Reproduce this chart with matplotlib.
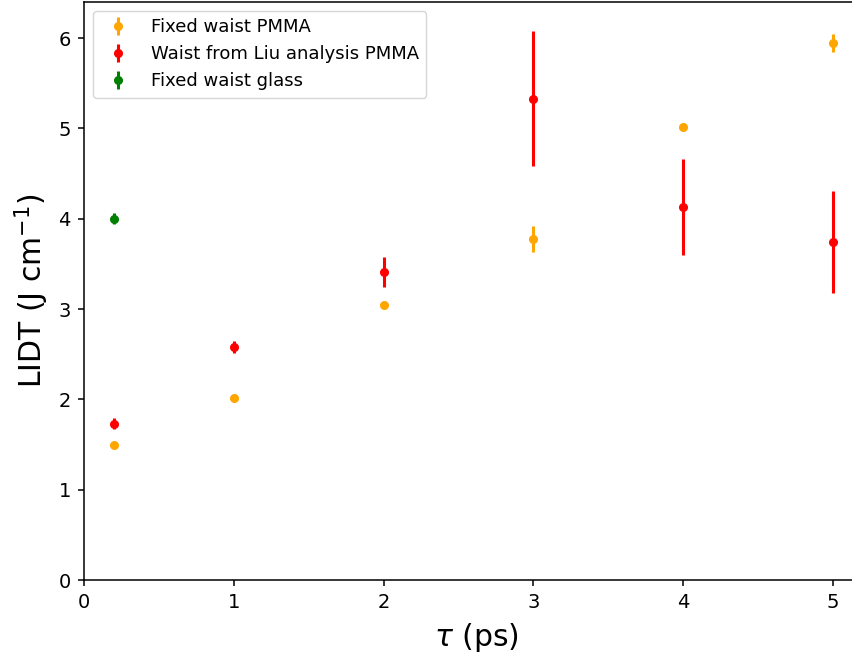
import numpy as np
import matplotlib.pyplot as plt

# pulse length (ps)
tau = [0.2, 1, 2, 3, 4, 5]

# fixed waist PMMA
lidt_fixed = [1.50, 2.02, 3.05, 3.78, 5.02, 5.95]
err_fixed = [0.02, 0.03, 0.02, 0.145, 0.02, 0.10]

# waist from Liu analysis PMMA
lidt_liu = [1.73, 2.58, 3.41, 5.33, 4.13, 3.74]
err_liu = [0.06, 0.07, 0.17, 0.75, 0.53, 0.565]

# fixed waist glass
tau_glass = [0.2]
lidt_glass = [4.00]
err_glass = [0.06]

fig = plt.figure(figsize=(8.52, 6.6), dpi=100)
ax = fig.add_axes([0.0986, 0.1212, 0.921, 0.8758])

ax.errorbar(tau, lidt_fixed, yerr=err_fixed, fmt='o', color='orange',
            elinewidth=2.2, markersize=5.5, label='Fixed waist PMMA')
ax.errorbar(tau, lidt_liu, yerr=err_liu, fmt='o', color='red',
            elinewidth=2.2, markersize=5.5, label='Waist from Liu analysis PMMA')
ax.errorbar(tau_glass, lidt_glass, yerr=err_glass, fmt='o', color='green',
            elinewidth=2.2, markersize=5.5, label='Fixed waist glass')

ax.set_xlim(0, 5.24)
ax.set_ylim(0, 6.4)
ax.tick_params(labelsize=14, length=4.5, width=1.1, pad=5)
for s in ax.spines.values():
    s.set_linewidth(1.1)
ax.set_xlabel(r'$\tau$ (ps)', fontsize=21.5, labelpad=6)
ax.set_ylabel(r'LIDT (J cm$^{-1}$)', fontsize=21.5, labelpad=5)
ax.legend(loc='upper left', fontsize=13)

fig.savefig('out.png', dpi=100)
